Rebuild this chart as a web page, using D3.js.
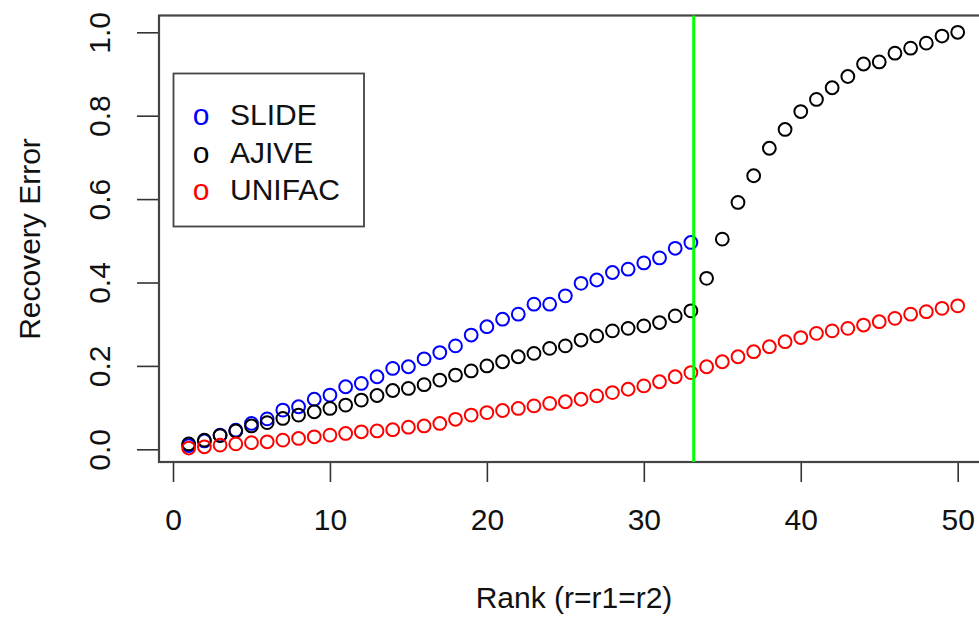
<!DOCTYPE html>
<html>
<head>
<meta charset="utf-8">
<script src="https://cdn.jsdelivr.net/npm/d3@7"></script>
<style>
  body { margin: 0; background: #fff; }
  text { font-family: "Liberation Sans", Arial, Helvetica, sans-serif; }
</style>
</head>
<body>
<svg width="979" height="617"></svg>
<script>
// ranks on the x axis
var ranks = d3.range(1, 51);

// recovery error
var slide = [0.009, 0.020, 0.034, 0.046, 0.062, 0.073, 0.094, 0.102, 0.120, 0.130,
             0.150, 0.158, 0.174, 0.194, 0.198, 0.217, 0.232, 0.248, 0.274, 0.294,
             0.312, 0.324, 0.348, 0.348, 0.368, 0.398, 0.406, 0.424, 0.432, 0.447,
             0.459, 0.482, 0.496];
var ajive = [0.013, 0.022, 0.033, 0.044, 0.056, 0.064, 0.074, 0.082, 0.090, 0.098,
             0.106, 0.118, 0.129, 0.141, 0.146, 0.155, 0.166, 0.178, 0.188, 0.200,
             0.210, 0.222, 0.230, 0.242, 0.248, 0.262, 0.272, 0.284, 0.290, 0.296,
             0.304, 0.320, 0.332, 0.410, 0.504, 0.592, 0.656, 0.722, 0.767, 0.810,
             0.839, 0.867, 0.894, 0.924, 0.929, 0.950, 0.962, 0.974, 0.991, 1.000];
var unifac = [0.003, 0.006, 0.010, 0.013, 0.016, 0.018, 0.022, 0.026, 0.030, 0.034,
              0.038, 0.042, 0.044, 0.047, 0.053, 0.056, 0.062, 0.072, 0.082, 0.088,
              0.093, 0.098, 0.104, 0.110, 0.114, 0.120, 0.128, 0.136, 0.144, 0.152,
              0.162, 0.174, 0.184, 0.198, 0.210, 0.222, 0.234, 0.246, 0.258, 0.268,
              0.278, 0.284, 0.290, 0.298, 0.306, 0.314, 0.324, 0.330, 0.338, 0.344];

var cutRank = 33.18;

var seriesNames = ['SLIDE', 'AJIVE', 'UNIFAC'];
var seriesColors = ['#0000ff', '#000000', '#ff0000'];
var seriesValues = [slide, ajive, unifac];

var xTicks = [0, 10, 20, 30, 40, 50];
var yTicks = [0, 0.2, 0.4, 0.6, 0.8, 1.0];

var svg = d3.select('svg');

// plot region (R box)
var boxLeft = 159, boxTop = 15.5, boxBottom = 462, boxRight = 989;

var x = d3.scaleLinear().domain([0, 50]).range([173, 957.7]);
var y = d3.scaleLinear().domain([0, 1]).range([449.3, 32.3]);

// x axis
var xAxis = svg.append('g')
    .attr('transform', 'translate(0,' + boxBottom + ')')
    .call(d3.axisBottom(x).tickValues(xTicks).tickSize(20).tickPadding(27)
        .tickFormat(d3.format('d')));
xAxis.select('.domain').remove();
xAxis.selectAll('line').attr('stroke', '#333').attr('stroke-width', 1.6);
xAxis.selectAll('text')
    .attr('font-size', 30)
    .attr('fill', '#111');

// y axis
var yAxis = svg.append('g')
    .attr('transform', 'translate(' + boxLeft + ',0)')
    .call(d3.axisLeft(y).tickValues(yTicks).tickSize(22).tickFormat(d3.format('.1f')));
yAxis.select('.domain').remove();
yAxis.selectAll('line').attr('stroke', '#333').attr('stroke-width', 1.6);
yAxis.selectAll('text').remove();
yAxis.selectAll('.tick').append('text')
    .attr('transform', 'translate(-49,0) rotate(-90)')
    .attr('text-anchor', 'middle')
    .attr('font-size', 30)
    .attr('fill', '#111')
    .text(function(d) { return d3.format('.1f')(d); });

// box
svg.append('rect')
    .attr('x', boxLeft)
    .attr('y', boxTop)
    .attr('width', boxRight - boxLeft)
    .attr('height', boxBottom - boxTop)
    .attr('fill', 'none')
    .attr('stroke', '#444')
    .attr('stroke-width', 2.2);

// points
seriesValues.forEach(function(vals, k) {
    svg.append('g').selectAll('circle')
        .data(vals)
        .enter()
        .append('circle')
        .attr('cx', function(d, i) { return x(ranks[i]); })
        .attr('cy', function(d) { return y(d); })
        .attr('r', 6.4)
        .attr('fill', 'none')
        .attr('stroke', seriesColors[k])
        .attr('stroke-width', 2);
});

// vertical cut line
svg.append('line')
    .attr('x1', x(cutRank))
    .attr('x2', x(cutRank))
    .attr('y1', boxTop)
    .attr('y2', boxBottom)
    .attr('stroke', '#00ff00')
    .attr('stroke-width', 3);

// legend
var legend = svg.append('g');
legend.append('rect')
    .attr('x', 173.5)
    .attr('y', 73.5)
    .attr('width', 190.5)
    .attr('height', 153)
    .attr('fill', '#fff')
    .attr('stroke', '#444')
    .attr('stroke-width', 1.8);

var item = legend.selectAll('.item')
    .data(seriesNames)
    .enter()
    .append('g')
    .attr('class', 'item')
    .attr('transform', function(d, i) {
        return 'translate(0,' + (125 + i * 37.5) + ')';
    });
item.append('text')
    .attr('x', 201)
    .attr('text-anchor', 'middle')
    .attr('font-size', 30)
    .attr('fill', function(d, i) { return seriesColors[i]; })
    .text('o');
item.append('text')
    .attr('x', 230)
    .attr('font-size', 30)
    .attr('fill', '#111')
    .text(function(d) { return d; });

// axis titles
svg.append('text')
    .attr('x', 574)
    .attr('y', 608)
    .attr('text-anchor', 'middle')
    .attr('font-size', 30)
    .attr('fill', '#111')
    .text('Rank (r=r1=r2)');

svg.append('text')
    .attr('transform', 'translate(40,239) rotate(-90)')
    .attr('text-anchor', 'middle')
    .attr('font-size', 30)
    .attr('fill', '#111')
    .text('Recovery Error');
</script>
</body>
</html>
